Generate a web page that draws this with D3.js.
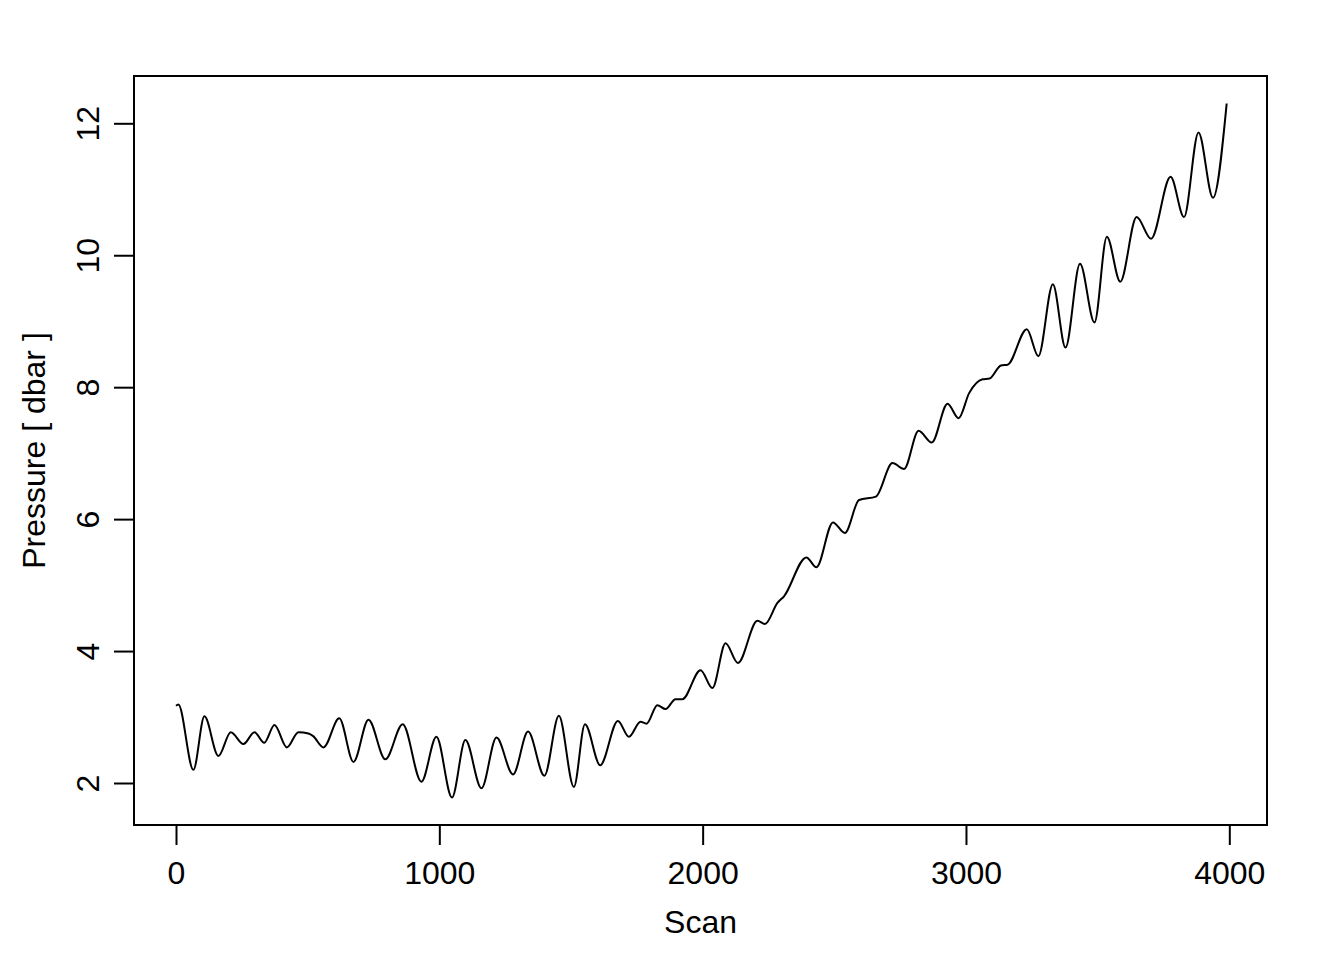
<!DOCTYPE html>
<html>
<head>
<meta charset="utf-8">
<script src="https://cdn.jsdelivr.net/npm/d3@7"></script>
<style>
  html, body { margin: 0; padding: 0; background: #fff; }
  svg text { font-family: "Liberation Sans", Arial, Helvetica, sans-serif; fill: #000; }
</style>
</head>
<body>
<svg id="chart" width="1344" height="960"></svg>
<script>
// Data (turning points of the trace)
const scan = [0, 9, 66, 108, 161, 208, 256, 298, 335, 374, 421, 465, 503, 521, 560, 620, 674, 731, 795, 861,
  932, 989, 1048, 1099, 1160, 1217, 1280, 1337, 1399, 1454, 1511, 1553, 1611, 1678, 1720, 1764, 1787, 1828, 1859, 1897,
  1923, 1992, 2037, 2087, 2134, 2208, 2237, 2284, 2309, 2394, 2432, 2495, 2540, 2594, 2658, 2721, 2765, 2820, 2870, 2930,
  2972, 3012, 3063, 3089, 3133, 3158, 3231, 3275, 3330, 3378, 3433, 3488, 3535, 3586, 3648, 3703, 3777, 3828, 3883, 3938, 3990];
const pressure = [3.17, 3.19, 2.20, 3.01, 2.41, 2.77, 2.59, 2.77, 2.61, 2.88, 2.54, 2.77, 2.75, 2.71, 2.54, 2.98, 2.32, 2.96, 2.36, 2.89,
  2.02, 2.70, 1.78, 2.65, 1.92, 2.69, 2.13, 2.78, 2.11, 3.02, 1.94, 2.89, 2.27, 2.94, 2.70, 2.93, 2.90, 3.18, 3.12, 3.27,
  3.27, 3.71, 3.44, 4.12, 3.82, 4.46, 4.41, 4.73, 4.83, 5.42, 5.27, 5.95, 5.79, 6.29, 6.34, 6.85, 6.76, 7.34, 7.16, 7.75,
  7.53, 7.91, 8.12, 8.13, 8.33, 8.34, 8.88, 8.47, 9.56, 8.60, 9.87, 8.98, 10.28, 9.60, 10.58, 10.25, 11.19, 10.58, 11.86, 10.87, 12.30];
const xTicks = [0, 1000, 2000, 3000, 4000];
const yTicks = [2, 4, 6, 8, 10, 12];
const xLabel = "Scan";
const yLabel = "Pressure [ dbar ]";

const svg = d3.select("#chart");
const box = { left: 134, right: 1267, top: 76, bottom: 825 };

const x = d3.scaleLinear().domain([0, 4000]).range([176, 1229.3]);
const y = d3.scaleLinear().domain([2, 12]).range([783, 123.3]);

const fontSize = 32;

// plot box
svg.append("rect")
  .attr("x", box.left).attr("y", box.top)
  .attr("width", box.right - box.left).attr("height", box.bottom - box.top)
  .attr("fill", "none").attr("stroke", "#000").attr("stroke-width", 2);

// x axis
const xAxis = d3.axisBottom(x).tickValues(xTicks).tickSize(20).tickPadding(16).tickFormat(d3.format("d"));
const gx = svg.append("g").attr("transform", `translate(0,${box.bottom})`).call(xAxis);
gx.select(".domain").attr("d", `M${x(0)},0H${x(4000)}`).attr("stroke-width", 2);
gx.selectAll(".tick line").attr("stroke-width", 2);
gx.selectAll("text").style("font-size", fontSize + "px").attr("font-family", null);

// y axis
const yAxis = d3.axisLeft(y).tickValues(yTicks).tickSize(20).tickPadding(12);
const gy = svg.append("g").attr("transform", `translate(${box.left},0)`).call(yAxis);
gy.select(".domain").attr("d", `M0,${y(2)}V${y(12)}`).attr("stroke-width", 2);
gy.selectAll(".tick line").attr("stroke-width", 2);
gy.selectAll("text")
  .style("font-size", fontSize + "px").attr("font-family", null)
  .attr("text-anchor", "middle").attr("dy", null).attr("x", null)
  .attr("transform", "translate(-46,0) rotate(-90)")
  .attr("dominant-baseline", "central");

// axis titles
svg.append("text").attr("x", (box.left + box.right) / 2).attr("y", 933)
  .attr("text-anchor", "middle").style("font-size", fontSize + "px").text(xLabel);
svg.append("text")
  .attr("transform", `translate(45,${(box.top + box.bottom) / 2}) rotate(-90)`)
  .attr("text-anchor", "middle").style("font-size", fontSize + "px").text(yLabel);

// line
const pts = scan.map((s, i) => [s, pressure[i]]);
const line = d3.line().x(d => x(d[0])).y(d => y(d[1])).curve(d3.curveMonotoneX);
svg.append("path").datum(pts).attr("d", line)
  .attr("fill", "none").attr("stroke", "#000").attr("stroke-width", 2).attr("stroke-linejoin", "round");
</script>
</body>
</html>
